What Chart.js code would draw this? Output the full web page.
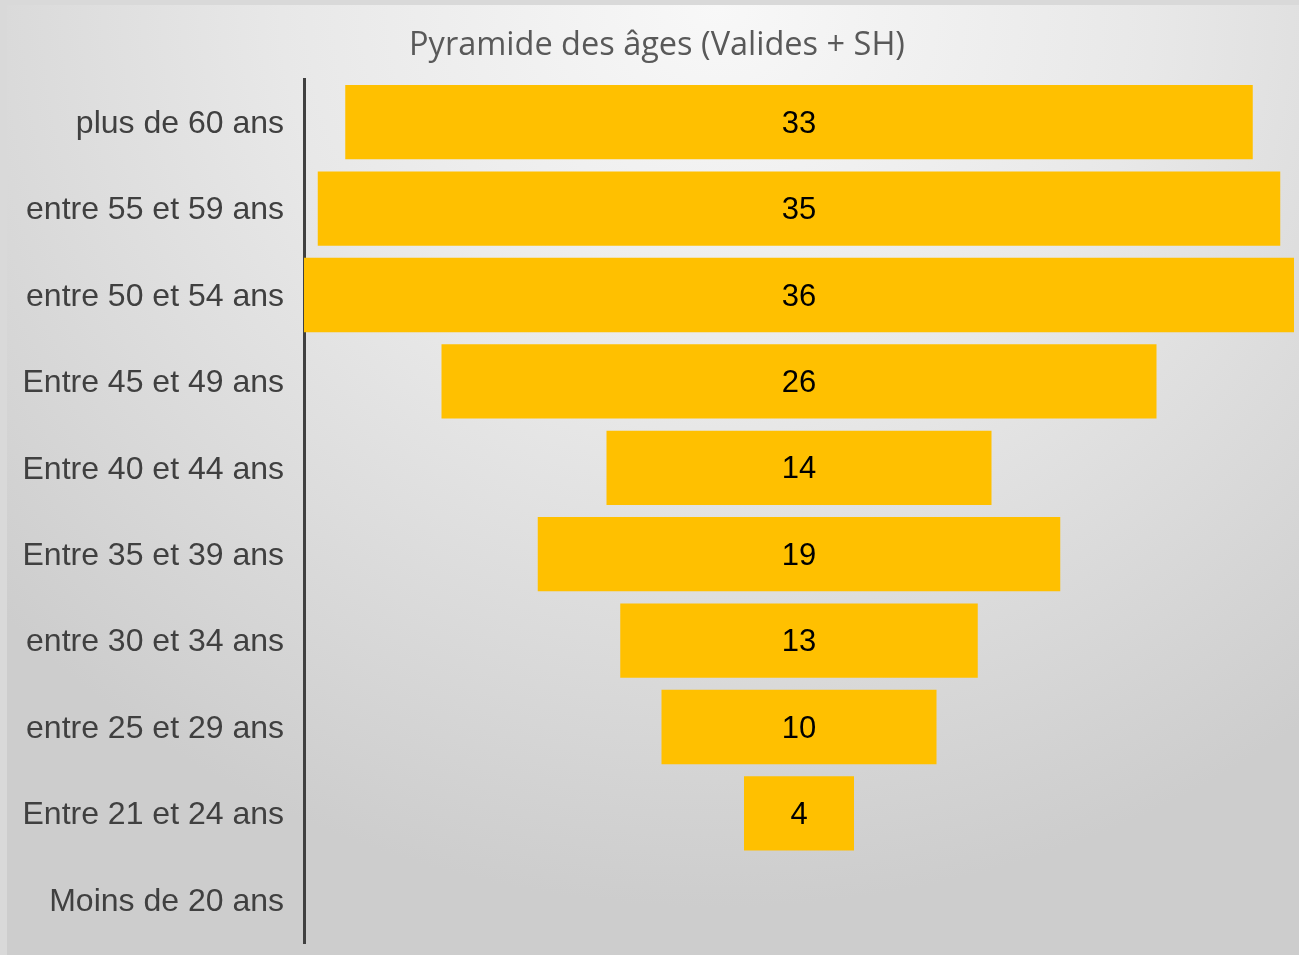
<!DOCTYPE html>
<html>
<head>
<meta charset="utf-8">
<script src="https://cdn.jsdelivr.net/npm/chart.js@4"></script>
<style>
html, body {
    margin: 0;
    padding: 0;
    width: 1299px;
    height: 955px;
    overflow: hidden;
    background: #d9d9d9;
}

#panel {
    position: absolute;
    left: 7px;
    top: 5px;
    width: 1292px;
    height: 950px;
    background: radial-gradient(ellipse 75% 95% at 55% 0%, #f8f8f8 0%, #e8e8e8 45%, #cdcdcd 100%);
}

#chart {
    position: absolute;
    left: 0;
    top: 0;
}
</style>
</head>
<body>

<div id="panel"></div>
<canvas id="chart" width="1299" height="955"></canvas>

<script>
// ------------------------------
// Data
// ------------------------------

const ageGroups = [
    "plus de 60 ans",
    "entre 55 et 59 ans",
    "entre 50 et 54 ans",
    "Entre 45 et 49 ans",
    "Entre 40 et 44 ans",
    "Entre 35 et 39 ans",
    "entre 30 et 34 ans",
    "entre 25 et 29 ans",
    "Entre 21 et 24 ans",
    "Moins de 20 ans"
];

const headcount = [33, 35, 36, 26, 14, 19, 13, 10, 4, 0];

const chartTitle = "Pyramide des âges (Valides + SH)";

// bars are centred on zero so they form a funnel
const centredBars = headcount.map(v => [-v / 2, v / 2]);


// ------------------------------
// Value labels inside the bars
// ------------------------------

const valueLabels = {
    id: "valueLabels",
    afterDatasetsDraw(chart) {
        const ctx = chart.ctx;
        const meta = chart.getDatasetMeta(0);
        ctx.save();
        ctx.font = "31px 'Liberation Sans', Arial, sans-serif";
        ctx.fillStyle = "#000000";
        ctx.textAlign = "center";
        ctx.textBaseline = "middle";
        meta.data.forEach((bar, i) => {
            if (!headcount[i]) return;
            const x = chart.scales.x.getPixelForValue(0);
            ctx.fillText(headcount[i], x, bar.y + 2);
        });
        ctx.restore();
    }
};


// ------------------------------
// Chart
// ------------------------------

const pyramid = new Chart(document.getElementById("chart"), {
    type: "bar",
    data: {
        labels: ageGroups,
        datasets: [{
            data: centredBars,
            backgroundColor: "#FFC000",
            borderWidth: 0,
            categoryPercentage: 1,
            barPercentage: 0.86
        }]
    },
    options: {
        indexAxis: "y",
        responsive: false,
        animation: false,
        layout: {
            padding: { left: 20, right: 5, top: 0, bottom: 12 }
        },
        plugins: {
            legend: { display: false },
            tooltip: { enabled: false },
            title: {
                display: true,
                text: chartTitle,
                color: "#595959",
                font: { family: "'Open Sans', sans-serif", size: 32.5, weight: "normal", lineHeight: 1.2 },
                padding: { top: 26, bottom: 14 }
            }
        },
        scales: {
            x: {
                display: false,
                min: -18,
                max: 18
            },
            y: {
                grid: { display: false },
                border: { display: true, color: "#404040", width: 3 },
                ticks: {
                    color: "#404040",
                    padding: 12,
                    labelOffset: 2,
                    font: { family: "'Liberation Sans', Arial, sans-serif", size: 32 }
                },
                afterFit(scale) {
                    scale.width = 284;
                    scale.paddingTop = 0;
                    scale.paddingBottom = 0;
                }
            }
        }
    },
    plugins: [valueLabels]
});
</script>

</body>
</html>
